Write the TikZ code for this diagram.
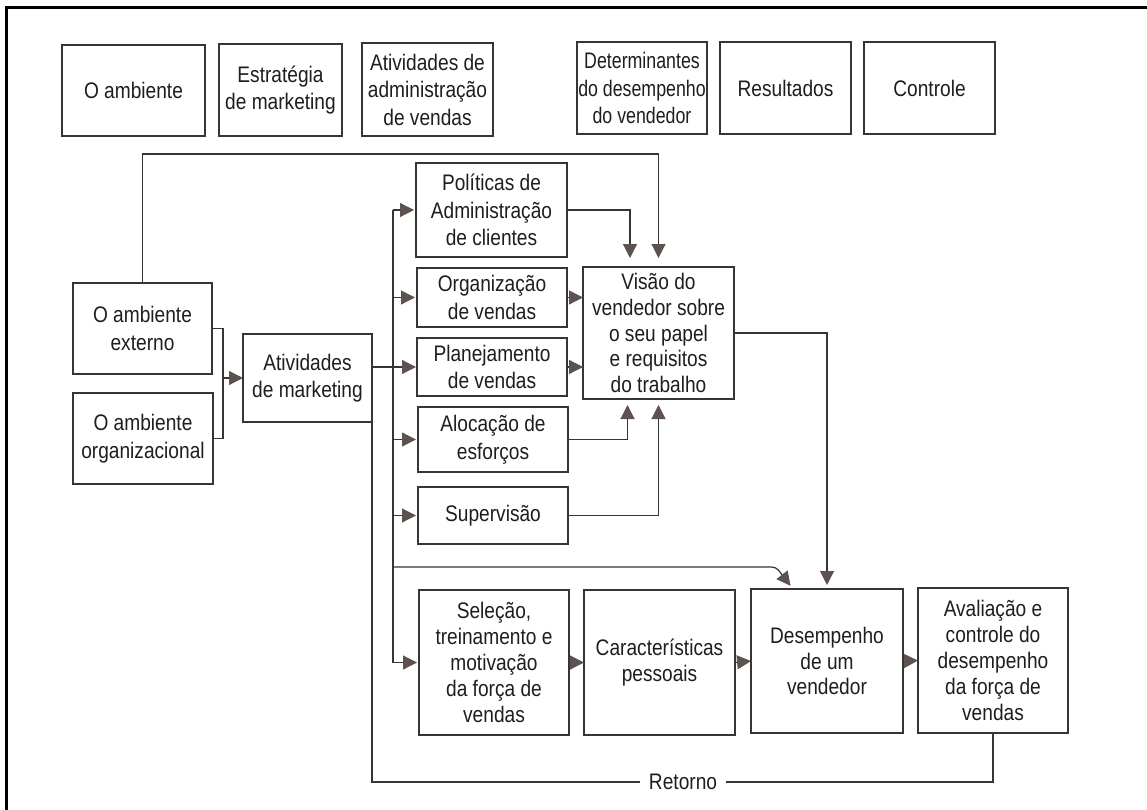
\documentclass[tikz,border=0pt]{standalone}
\usepackage{fontspec}
\setmainfont{Liberation Sans}[FakeStretch=0.85]
\newfontfamily\narrowfont{Liberation Sans}[FakeStretch=0.79]
\usetikzlibrary{arrows.meta}
\definecolor{edge}{HTML}{353535}
\definecolor{tipfill}{HTML}{5E5250}
\definecolor{ink}{HTML}{1E1E1E}
\tikzset{
  box/.style={draw=edge, line width=1.3pt, inner sep=0pt, outer sep=0pt,
    align=center, text=ink, font=\fontsize{22.5}{27.5}\selectfont},
  tall/.style={font=\fontsize{22.5}{25.8}\selectfont},
  link/.style={draw=edge, line width=1.2pt},
  arr/.style={link, -{Triangle[length=14pt,width=14pt,fill=tipfill,color=tipfill]}},
}
\begin{document}
\begin{tikzpicture}[x=1pt,y=-1pt]
\useasboundingbox (0,0) rectangle (1147,810);
% outer frame (top and left edges)
\draw[line width=3pt, black] (6.5,810) -- (6.5,8) -- (1147,8);

% column headings
\node[box, minimum width=143pt, minimum height=91pt] (amb) at (133.5,90.5) {O ambiente};
\node[box, minimum width=123pt, minimum height=92pt] (estr) at (280.5,90) {Estratégia\\de marketing};
\node[box, minimum width=131pt, minimum height=93pt] (atadm) at (427.5,89.5) {Atividades de\\administração\\de vendas};
\node[box, minimum width=130pt, minimum height=92pt, font=\narrowfont\fontsize{22.5}{27.5}\selectfont] (det) at (642,88) {Determinantes\\do desempenho\\do vendedor};
\node[box, minimum width=131pt, minimum height=92pt] (res) at (785.5,88) {Resultados};
\node[box, minimum width=131pt, minimum height=92pt] (ctl) at (929.5,88) {Controle};

% environment
\node[box, minimum width=139pt, minimum height=91pt] (ext) at (142.5,328.5) {O ambiente\\externo};
\node[box, minimum width=140pt, minimum height=91pt] (org) at (143,438.5) {O ambiente\\organizacional};

% marketing
\node[box, minimum width=129pt, minimum height=88pt] (mkt) at (307.5,378) {Atividades\\de marketing};

% sales management activities
\node[box, minimum width=151pt, minimum height=94pt] (pol) at (491.5,210) {Políticas de\\Administração\\de clientes};
\node[box, minimum width=150pt, minimum height=59pt] (orgv) at (492,297.5) {Organização\\de vendas};
\node[box, minimum width=150pt, minimum height=58pt] (plan) at (492,367) {Planejamento\\de vendas};
\node[box, minimum width=150pt, minimum height=65pt] (aloc) at (493,439.5) {Alocação de\\esforços};
\node[box, minimum width=150pt, minimum height=57pt] (sup) at (493,515.5) {Supervisão};

% role perception
\node[box, tall, minimum width=151pt, minimum height=132pt] (vis) at (658.5,333) {Visão do\\vendedor sobre\\o seu papel\\e requisitos\\do trabalho};

% bottom chain
\node[box, tall, minimum width=150pt, minimum height=145pt] (sel) at (494,662.5) {Seleção,\\treinamento e\\motivação\\da força de\\vendas};
\node[box, tall, minimum width=151pt, minimum height=145pt] (car) at (659.5,662.5) {Características\\pessoais};
\node[box, tall, minimum width=152pt, minimum height=144pt] (des) at (827,661) {Desempenho\\de um\\vendedor};
\node[box, tall, minimum width=150pt, minimum height=145pt] (ava) at (993,660.5) {Avaliação e\\controle do\\desempenho\\da força de\\vendas};

% feedback label
\node[text=ink, font=\fontsize{22.5}{27.5}\selectfont, inner xsep=9pt, inner ysep=0pt] (ret) at (683,782) {Retorno};

% helper coordinates
\coordinate (bus) at (393,0);
\coordinate (brk) at (223,378);
\coordinate (top) at (0,154);

% external environment to role perception
\draw[arr, shorten >=9pt] (ext.north) -- (ext.north |- top) -| (vis.north);

% environments joined into marketing
\draw[link] (ext.east) -| (brk) |- (org.east);
\draw[arr] (brk) -- (mkt.west);

% marketing to the distribution line
\draw[arr, shorten >=1pt] (mkt.east |- plan.west) -- (plan.west);
\draw[link] (bus |- pol.west) -- (bus |- sel.west);
\foreach \n in {pol,orgv,aloc,sup,sel}
  \draw[arr, shorten >=2pt] (bus |- \n.west) -- (\n.west);

% direct line to performance
\draw[arr, rounded corners=4pt, shorten >=4pt] (bus |- 0,567) -- (776,567) -- ([xshift=-34pt]des.north);

% inputs to role perception
\draw[arr, shorten >=9pt] (pol.east) -| ([xshift=-28.5pt]vis.north);
\draw[arr] (orgv.east) -- (vis.west |- orgv.east);
\draw[arr] (plan.east) -- (vis.west |- plan.east);
\draw[arr, shorten >=6pt] (aloc.east) -| ([xshift=-31pt]vis.south);
\draw[arr, shorten >=6pt] (sup.east) -| (vis.south);

% role perception to performance
\draw[arr, shorten >=4pt] (vis.east) -| (des.north);

% chain
\draw[arr] (sel.east) -- (car.west);
\draw[arr] (car.east) -- (des.west);
\draw[arr] (des.east) -- (ava.west);

% feedback loop
\draw[link] (mkt.south east) |- (ret.west);
\draw[link] (ret.east) -| (ava.south);
\end{tikzpicture}
\end{document}
